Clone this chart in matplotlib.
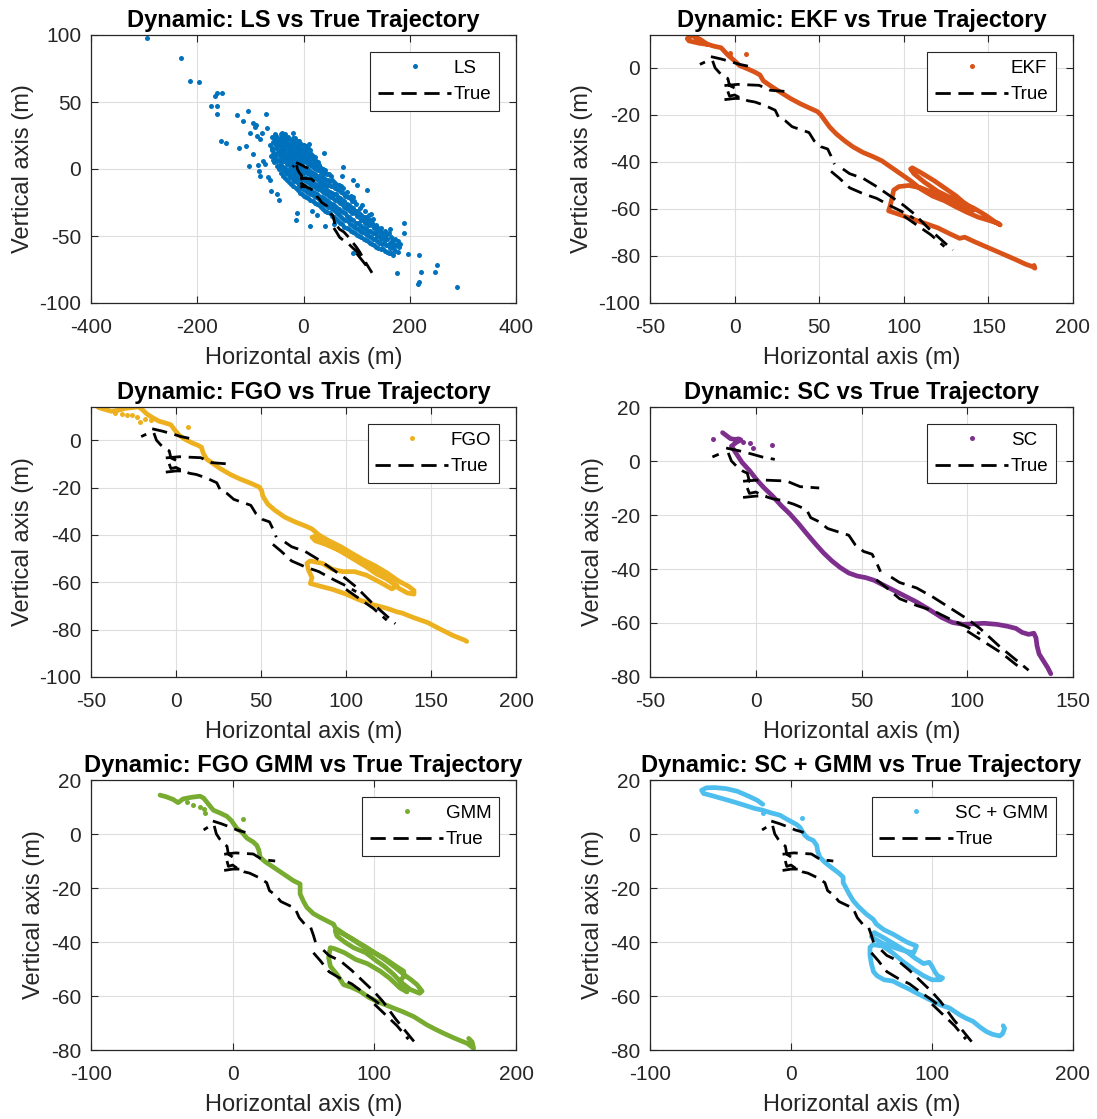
import numpy as np
import matplotlib.pyplot as plt
from matplotlib.lines import Line2D

plt.rcParams['font.family'] = ['Liberation Sans', 'DejaVu Sans']
plt.rcParams['axes.unicode_minus'] = False
plt.rcParams['lines.scale_dashes'] = False

nan = np.nan

# ground truth (shared by every panel), NaN breaks between pieces
true_x = [-20.5, -17.5, nan,
          -14, -8, -2, 3, 9, nan,
          -13, -11.5, -9, -6, -4, -3, 0, nan,
          -6, 2, 8, 14.5, 21, 30, nan,
          -6, 0, 5, nan,
          -4, -3, 0, 4, 8, 12, 18, 24, 26, 30, 34, 40, 44, 47, 51, 55, 57, 59, nan,
          57, 62, 68, 76, 84, 93, 100, 106, nan,
          64, 68, 76, 84, 92, 100, 106, 115, 122, 129, nan,
          100, 108, 116, 124]
true_y = [1.5, 2.5, nan,
          4.8, 3.8, 2.6, 1.5, 0.6, nan,
          3, 0, -2, -3.8, -4.5, -7.5, -8.5, nan,
          -7.5, -7, -7.2, -7.4, -9.5, -10, nan,
          -13.5, -13, -13, nan,
          -10, -12, -11.5, -13, -14, -14.5, -16, -18, -21, -22.5, -25, -26.5, -27.5, -31, -33.5, -34.5, -37.5, -41, nan,
          -44, -47, -51, -53.5, -55.5, -59, -61.5, -64, nan,
          -43, -45, -47, -50.5, -54.5, -58.5, -62, -68.5, -73, -77.5, nan,
          -63, -67, -71, -76]

# LS fixes (scatter)
ls_pts = [
    # outliers
    (-295, 98), (-231, 83), (-213, 66), (-197, 65), (-175, 47), (-163.5, 47), (-166.7, 54.4),
    (-163.5, 56.4), (-154, 56.4), (-163.5, 40.7), (-125.8, 40), (-103.8, 43), (-113, 35.7),
    (-96, 34), (-90, 33), (-92, 31), (-70, 41), (-69, 30.7), (-156, 21.2), (-145, 19.5),
    (-121, 15.7), (-108, 17.5), (-101, 27), (-88, 24.4), (-82, 22.4), (-79, 27), (-96, 11.5),
    (-102, 2.5), (-85, 3.2), (-82, -5.5), (-84, -1.7), (-66, -6), (-63, -8.5), (-61.6, -16.7),
    (-49, -18.5), (-46.6, -23), (-41, 27), (-76.7, 5.7), (-72, 4), (-12.6, -33), (-14.5, -38),
    (12.6, -42.4), (40.9, -42.4), (56.6, -41), (15.7, -31.7), (25, -34), (37.7, 12), (74, 1.5),
    (72, -5), (94, -8.5), (101.6, -11.7), (119.5, -15.5), (94, -21), (110, -26.7), (127, -33.4),
    (138, -43), (162, -45), (188.6, -40), (188.6, -47.4), (176, -77.3), (93, -62.4),
    (197.5, -63.4), (218.3, -64), (221, -77), (218, -84), (215, -85.8), (251.6, -71.6),
    (248, -76.6), (289, -88), (-54, 26), (-60, 24), (-20, 27), (10, 19),
    # dense band
    (-62, 10), (-60, 14), (-63, 18), (-58, 20),
    (-55, 5), (-53, 9), (-56, 12), (-52, 16), (-54, 19), (-51, 22),
    (-47, 0), (-45, 3), (-48, 7), (-44, 10), (-46, 13), (-45, 17), (-47, 20), (-44, 23),
    (-39, -5), (-37, -1), (-40, 2), (-36, 6), (-38, 9), (-37, 12), (-39, 15), (-36, 18), (-38, 21), (-37, 24),
    (-31, -8), (-29, -4), (-30, -1), (-28, 3), (-31, 6), (-29, 9), (-30, 12), (-28, 15), (-31, 18), (-29, 21), (-30, 24),
    (-23, -11), (-21, -7), (-22, -4), (-20, 0), (-23, 3), (-21, 6), (-22, 9), (-20, 12), (-23, 15), (-21, 18), (-22, 21), (-20, 23),
    (-15, -14), (-13, -10), (-14, -7), (-12, -3), (-15, 0), (-13, 3), (-14, 6), (-12, 10), (-15, 13), (-13, 16), (-14, 19), (-12, 21),
    (-7, -18), (-5, -14), (-6, -10), (-4, -7), (-7, -3), (-5, 0), (-6, 4), (-4, 7), (-7, 10), (-5, 13), (-6, 16), (-4, 19),
    (1, -20), (3, -16), (2, -13), (4, -9), (1, -6), (3, -2), (2, 1), (4, 5), (1, 8), (3, 11), (2, 14), (4, 17),
    (9, -22), (11, -18), (10, -15), (12, -11), (9, -8), (11, -4), (10, -1), (12, 3), (9, 6), (11, 9), (10, 12), (12, 14),
    (17, -24), (19, -20), (18, -17), (20, -13), (17, -10), (19, -6), (18, -3), (20, 1), (17, 4), (19, 7), (18, 10),
    (25, -26), (27, -22), (26, -19), (28, -15), (25, -12), (27, -8), (26, -5), (28, -1), (25, 2), (27, 5),
    (33, -28), (35, -24), (34, -21), (36, -17), (33, -13), (35, -10), (34, -6), (36, -3), (33, 1),
    (41, -31), (43, -27), (42, -23), (44, -19), (41, -15), (43, -12), (42, -8), (44, -4), (41, -1),
    (49, -33), (51, -29), (50, -25), (52, -21), (49, -17), (51, -13), (50, -9), (52, -5),
    (57, -36), (59, -31), (58, -27), (60, -23), (57, -19), (59, -14), (58, -10),
    (65, -39), (67, -34), (66, -30), (68, -25), (65, -21), (67, -16), (66, -12),
    (73, -41), (75, -37), (74, -32), (76, -28), (73, -23), (75, -18), (74, -14),
    (81, -44), (83, -39), (82, -35), (84, -30), (81, -26), (83, -21), (82, -17),
    (89, -46), (91, -42), (90, -37), (92, -33), (89, -28), (91, -24), (90, -20),
    (97, -48), (99, -44), (98, -40), (100, -35), (97, -31), (99, -26),
    (105, -50), (107, -46), (106, -42), (108, -38), (105, -33), (107, -29),
    (113, -52), (115, -48), (114, -44), (116, -40), (113, -36), (115, -31),
    (121, -54), (123, -50), (122, -46), (124, -42), (121, -38), (123, -34),
    (129, -56), (131, -52), (130, -48), (132, -44), (129, -40), (131, -37),
    (137, -58), (139, -54), (138, -50), (140, -46), (137, -42),
    (145, -60), (147, -56), (146, -52), (148, -48), (145, -44),
    (153, -61), (155, -57), (154, -53), (156, -49), (153, -46),
    (161, -63), (163, -59), (162, -55), (164, -51), (161, -48),
    (169, -64), (171, -60), (170, -56), (172, -52),
    (177, -62), (180, -58), (178, -54), (182, -56),
    # in-between fixes of the band
    (-58, 7), (-57, 11), (-59, 16), (-56, 23),
    (-50, 2), (-49, 6), (-51, 11), (-48, 14), (-50, 18), (-49, 21), (-52, 25),
    (-42, -3), (-41, 1), (-43, 5), (-40, 8), (-42, 12), (-41, 15), (-43, 19), (-40, 22), (-42, 26),
    (-35, -7), (-33, -3), (-34, 1), (-32, 4), (-35, 8), (-33, 11), (-34, 14), (-32, 17), (-35, 20), (-33, 23), (-34, 26),
    (-27, -10), (-25, -6), (-26, -2), (-24, 1), (-27, 5), (-25, 8), (-26, 11), (-24, 14), (-27, 17), (-25, 20), (-26, 22),
    (-19, -13), (-17, -9), (-18, -5), (-16, -2), (-19, 2), (-17, 5), (-18, 8), (-16, 11), (-19, 14), (-17, 17), (-18, 20), (-16, 23),
    (-11, -16), (-9, -12), (-10, -8), (-8, -5), (-11, -1), (-9, 2), (-10, 5), (-8, 8), (-11, 12), (-9, 15), (-10, 18), (-8, 21),
    (-3, -19), (-1, -15), (-2, -12), (0, -8), (-3, -4), (-1, -1), (-2, 3), (0, 6), (-3, 9), (-1, 12), (-2, 15), (0, 18),
    (5, -21), (7, -17), (6, -14), (8, -10), (5, -7), (7, -3), (6, 0), (8, 4), (5, 7), (7, 10), (6, 13), (8, 16),
    (13, -23), (15, -19), (14, -16), (16, -12), (13, -9), (15, -5), (14, -2), (16, 2), (13, 5), (15, 8), (14, 11),
    (21, -25), (23, -21), (22, -18), (24, -14), (21, -11), (23, -7), (22, -4), (24, 0), (21, 3), (23, 6), (22, 9),
    (29, -27), (31, -23), (30, -20), (32, -16), (29, -12), (31, -9), (30, -5), (32, -2), (29, 3),
    (37, -30), (39, -26), (38, -22), (40, -18), (37, -14), (39, -11), (38, -7), (40, -3), (37, 0),
    (45, -32), (47, -28), (46, -24), (48, -20), (45, -16), (47, -12), (46, -8), (48, -4),
    (53, -35), (55, -30), (54, -26), (56, -22), (53, -18), (55, -13), (54, -8),
    (61, -37), (63, -33), (62, -28), (64, -24), (61, -19), (63, -15), (62, -11),
    (69, -40), (71, -36), (70, -31), (72, -26), (69, -22), (71, -17), (70, -13),
    (77, -43), (79, -38), (78, -33), (80, -29), (77, -24), (79, -20),
    (85, -45), (87, -41), (86, -36), (88, -31), (85, -27), (87, -22),
    (93, -47), (95, -43), (94, -38), (96, -33), (93, -29), (95, -24),
    (101, -49), (103, -45), (102, -40), (104, -36), (101, -31),
    (109, -51), (111, -47), (110, -43), (112, -38), (109, -34),
    (117, -53), (119, -49), (118, -44), (120, -40), (117, -36),
    (125, -55), (127, -51), (126, -46), (128, -42), (125, -38),
    (133, -57), (135, -52), (134, -48), (136, -44),
    (141, -59), (143, -55), (142, -50), (144, -46),
    (149, -60), (151, -55), (150, -51),
    (157, -62), (159, -57), (158, -52),
    (165, -63), (167, -58), (166, -54),
    (173, -61), (175, -57),
]

ekf_track = [(-24, 13.5), (-20, 12), (-16, 10), (-21, 10.5), (-27, 11.5), (-28, 12.5), (-25, 13.8), (-18, 10.5),
             (-12, 9.2), (-8, 8.6), (-4, 5.5), (0, 3), (3, 1), (8, -0.5), (12, -1.8), (15, -3), (17, -5.5),
             (22, -8), (27, -10.3), (33, -13), (39, -15.3), (45, -17.3), (49, -18.6), (51, -20), (53, -22),
             (56, -25), (60, -28), (65, -31), (70, -33.6), (76, -36), (82, -37.8), (87, -39.5), (92, -42),
             (98, -45), (104, -48), (110, -51.5), (117, -54.5), (124, -56.5), (130, -58.8), (137, -61.3),
             (144, -63.5), (151, -65), (156, -66.2), (157, -66.8), (154, -65.5), (148, -62.5), (141, -59.5),
             (134, -57.5), (127, -55), (120, -52.5), (112, -48.5), (106, -45), (104, -43), (105, -42.5),
             (110, -44.5), (118, -48), (125, -51.5), (131, -54.5), (135, -57), (140, -59.5), (141, -60.5),
             (136, -59.5), (130, -57.5), (124, -55.5), (117, -53), (110, -51), (103, -50), (97, -50.5),
             (94, -52), (93, -55.5), (92, -58.5), (91, -60.8), (96, -62), (104, -64), (112, -66), (120, -68),
             (127, -70.5), (133, -72.5), (136, -72), (142, -74), (150, -76.5), (158, -79), (166, -81.5),
             (172, -83.5), (176, -84.5), (177.5, -85.2), (177, -84)]
ekf_dots = [(-3, 6.5), (-2.5, 5), (7, 5.8)]

fgo_track = [(-45.7, 13.8), (-42, 13), (-38, 12.2), (-34, 12.6), (-30, 13.4), (-25, 13.8), (-22, 14), (-20, 13),
             (-17, 11), (-14, 9.6), (-10, 8), (-6, 7.2), (-3, 6.5), (-1, 4.5), (2, 2), (5, 0.5), (9, -1),
             (13, -2.2), (15, -3), (16, -5.5), (18, -8), (21, -9.5), (26, -12), (32, -14.5), (38, -16.5),
             (44, -18.2), (49, -19.8), (50.5, -21.5), (51, -23.5), (54, -27), (58, -29.5), (64, -32.5),
             (70, -34.5), (76, -36.2), (80, -37.5), (84, -40), (90, -42.5), (97, -45), (104, -48), (110, -50.5),
             (117, -53), (124, -56), (131, -59.5), (137, -61.8), (140, -63.5), (140, -65), (136, -64.5),
             (131, -62.5), (126, -59.5), (120, -56), (112, -52.5), (104, -49.5), (96, -46.5), (88, -44),
             (82, -42.5), (80, -41), (82, -40.5), (88, -43), (96, -46.5), (104, -50), (112, -53.5), (118, -56.5),
             (125, -59), (130, -61.5), (127, -62.8), (120, -60), (112, -57), (105, -55.5), (98, -55.5),
             (92, -54.5), (86, -52), (79, -51), (77, -52), (78, -55), (80, -58), (79, -60.5), (84, -61.5),
             (92, -63), (100, -65), (108, -67.5), (116, -69.5), (124, -71), (130, -72.5), (133, -73), (140, -75),
             (148, -77), (156, -80), (163, -82.5), (170, -84.5), (171, -85)]
fgo_dots = [(-36, 11.5), (-32, 11.2), (-29, 10.5), (-26, 10.5), (-23, 9.6), (-21, 7.7), (-18, 9), (-15, 8.7),
            (7.3, 5.6)]

sc_track = [(-15.7, 10.5), (-14, 9.5), (-12, 8.3), (-10, 8), (-8, 8.2), (-7, 7.8), (-9, 7), (-11.5, 5.5),
            (-9, 2.5), (-6.5, -0.5), (-3, -3.5), (0.5, -7), (4, -10), (8, -13), (12, -16.5), (16, -19.5),
            (20, -23), (24, -26.8), (28, -30.5), (32, -34), (36, -37), (40, -39.5), (44, -41.5), (48, -42.6),
            (52, -43.2), (56, -44.2), (60, -45.8), (65, -47.8), (70, -49.8), (76, -52.2), (82, -55), (88, -58),
            (93, -59.8), (98, -60.5), (103, -60.3), (108, -60.1), (114, -60.5), (119, -61.2), (123, -62),
            (126, -63.5), (129, -64.2), (131.5, -63.8), (132.5, -65.5), (133, -68.5), (134, -71.5), (136, -74),
            (138, -76.5), (139.5, -78.8)]
sc_dots = [(-20, 8), (-6, 7), (-2.8, 6.5), (-1.5, 5), (7.5, 5.8)]

gmm_track = [(-51.3, 14.4), (-47, 13.8), (-42, 12.8), (-38.5, 11.6), (-35, 13), (-29, 13.6), (-23, 14),
             (-20.5, 13.3), (-17, 11), (-13.6, 8.8), (-9, 7.8), (-4.2, 6.6), (-1, 5), (0.5, 3.9), (3, 2),
             (6.4, 0.7), (10, -1.5), (14.6, -3), (17, -4.2), (18.5, -6), (19.4, -8.6), (23, -10.3), (28.8, -12.3),
             (35, -14.5), (42.9, -17.3), (47.6, -18.5), (47.6, -22.2), (50, -25), (52.4, -27.2), (57, -29.5),
             (61.8, -30.9), (67, -32.3), (71.2, -33.4), (73.6, -35.9), (78, -37), (83, -38.4), (89, -40.3),
             (94.8, -42.1), (102, -44.6), (108.9, -47.1), (115, -49.5), (120.7, -52), (126, -54), (130.1, -55.8),
             (133.7, -58.2), (132, -59), (125.4, -57.6), (119, -55), (113.6, -52), (107, -49), (101.8, -47.1),
             (94, -44), (85.3, -42.1), (79, -40), (73.6, -37.8), (72.4, -35.9), (74, -35.3), (80, -37.5),
             (90, -40.9), (98, -43.5), (106.5, -45.8), (114, -48.5), (120.7, -50.8), (121, -52.5), (118.3, -54.5),
             (121, -57), (123, -58.5), (118, -57), (111, -53.5), (104.2, -50.8), (95, -48), (87, -46.5),
             (79, -44), (72, -42.5), (68.9, -42.1), (67.7, -45.8), (69, -49), (73.6, -52), (78.3, -55.8),
             (84, -56.8), (90, -58.3), (96, -60.5), (101.8, -62), (108, -63.3), (113.6, -64.5), (120, -65.8),
             (127.7, -67.6), (132, -69), (137.1, -70.7), (143, -72.3), (148.9, -73.8), (156, -75.5), (162, -76.8),
             (165.4, -77.5), (168, -78.5), (170.1, -79.4), (169, -77), (166.6, -75.7)]
gmm_dots = [(-32.4, 11.9), (-27.7, 10.7), (-23, 10), (-20.2, 9.4), (-19.5, 7.6), (7.2, 5.7)]

scg_track = [(-20, 11), (-24, 12.5), (-30, 14), (-38, 15.8), (-46, 16.8), (-54, 17.2), (-60, 17.1), (-63.4, 16.2),
             (-62, 15), (-56, 14.2), (-48, 13), (-40, 11.8), (-32, 10.5), (-26, 9.5), (-20, 8.8), (-14, 7.8),
             (-8, 7), (-3, 5.5), (0.5, 4.5), (4, 3.5), (6.3, 2.5), (8, 1), (9.9, -0.5), (12, -1.5), (15.8, -2.4),
             (18.2, -4.2), (19, -6.5), (20.5, -8.6), (24, -10.5), (29.9, -12.9), (34, -14.5), (37, -16), (37, -18),
             (38, -19), (41, -22), (44.1, -24.7), (48, -27), (53.5, -29.7), (58.3, -31.6), (60.6, -33.4),
             (66, -35.5), (72.4, -37.1), (78, -38.8), (82, -40), (89, -41.5), (87, -44), (82, -43.5), (76, -42.5),
             (70, -41.5), (65, -40.5), (60, -39), (57, -38), (59, -36.5), (66, -38.5), (74, -41), (82, -43.5),
             (88, -46), (94, -48), (98, -47.5), (100, -49), (102, -51), (104, -52.5), (107.5, -53.3), (106, -54),
             (100, -54), (94, -52.5), (88, -50.5), (80, -47.5), (72, -44), (65, -41.5), (58, -41), (56, -42),
             (56, -45), (57, -48), (58.5, -51), (61, -52.5), (66, -54), (72.4, -54.5), (78, -56), (84, -57.5),
             (91.3, -59.5), (97, -61), (100.8, -62), (106, -63.3), (112.6, -64.5), (119.7, -67), (124, -68.2),
             (129.1, -69.4), (134, -71.5), (138.6, -73.2), (143, -74.2), (148, -74.8), (150, -74), (151.5, -72),
             (150.5, -71)]
scg_dots = [(-19.7, 7.8), (7.5, 6)]

names = ['LS', 'EKF', 'FGO', 'SC', 'GMM', 'SC + GMM']
titles = ['Dynamic: LS vs True Trajectory', 'Dynamic: EKF vs True Trajectory',
          'Dynamic: FGO vs True Trajectory', 'Dynamic: SC vs True Trajectory',
          'Dynamic: FGO GMM vs True Trajectory', 'Dynamic: SC + GMM vs True Trajectory']
colors = ['#0072BD', '#D95319', '#EDB120', '#7E2F8E', '#77AC30', '#4DBEEE']
tracks = [None, ekf_track, fgo_track, sc_track, gmm_track, scg_track]
dots = [ls_pts, ekf_dots, fgo_dots, sc_dots, gmm_dots, scg_dots]
xlims = [(-400, 400), (-50, 200), (-50, 200), (-50, 150), (-100, 200), (-100, 200)]
xsteps = [200, 50, 50, 50, 100, 100]
ylims = [(-100, 100), (-100, 14), (-100, 14), (-80, 20), (-80, 20), (-80, 20)]
ysteps = [50, 20, 20, 20, 20, 20]

W, H = 1097, 1119
fig = plt.figure(figsize=(W / 100, H / 100), dpi=100)
cols = [(91, 425), (650, 423)]
rows = [(35, 268), (407, 270), (780, 270)]

txt = '#262626'
for i in range(6):
    left, w = cols[i % 2]
    top, h = rows[i // 2]
    ax = fig.add_axes([left / W, 1 - (top + h) / H, w / W, h / H])
    c = colors[i]
    if tracks[i] is not None:
        tx, ty = zip(*tracks[i])
        ax.plot(tx, ty, '-', color=c, lw=3.4, solid_joinstyle='round', solid_capstyle='round', zorder=2)
    dx, dy = zip(*dots[i])
    ax.plot(dx, dy, ls='', marker='o', ms=3.6, mew=0, color=c, zorder=2)
    ax.plot(true_x, true_y, color='black', lw=2, dashes=(11, 5.5), zorder=3)

    ax.set_xlim(*xlims[i])
    ax.set_ylim(*ylims[i])
    ax.set_xticks(np.arange(xlims[i][0], xlims[i][1] + 1, xsteps[i]))
    ylo = int(np.ceil(ylims[i][0] / ysteps[i]) * ysteps[i])
    ax.set_yticks(np.arange(ylo, ylims[i][1] + 1, ysteps[i]))
    ax.grid(True, color='#dedede', lw=0.8)
    ax.set_axisbelow(True)
    ax.tick_params(direction='in', top=True, right=True, length=5, width=0.8,
                   labelsize=15, colors=txt)
    ax.tick_params(axis='x', pad=11)
    ax.tick_params(axis='y', pad=7)
    for s in ax.spines.values():
        s.set_color(txt)
        s.set_linewidth(0.9)
    ax.set_title(titles[i], fontsize=17, fontweight='bold', pad=6)
    ax.set_xlabel('Horizontal axis (m)', fontsize=17, color=txt, labelpad=7)
    ax.set_ylabel('Vertical axis (m)', fontsize=17, color=txt, labelpad=4)

    h1 = Line2D([], [], ls='', marker='o', ms=3.6, mew=0, color=c)
    h2 = Line2D([], [], color='black', lw=2, dashes=(11, 5.5))
    leg = ax.legend([h1, h2], [names[i], 'True'], loc='upper right',
                    bbox_to_anchor=((w - 17) / w, 1 - 17 / h), borderaxespad=0,
                    fontsize=13.5, handlelength=3.9, handletextpad=0.15,
                    labelspacing=0.5, borderpad=0.4, fancybox=False,
                    framealpha=1, edgecolor=txt)
    leg.get_frame().set_linewidth(0.8)

fig.savefig('out.png', dpi=100)
